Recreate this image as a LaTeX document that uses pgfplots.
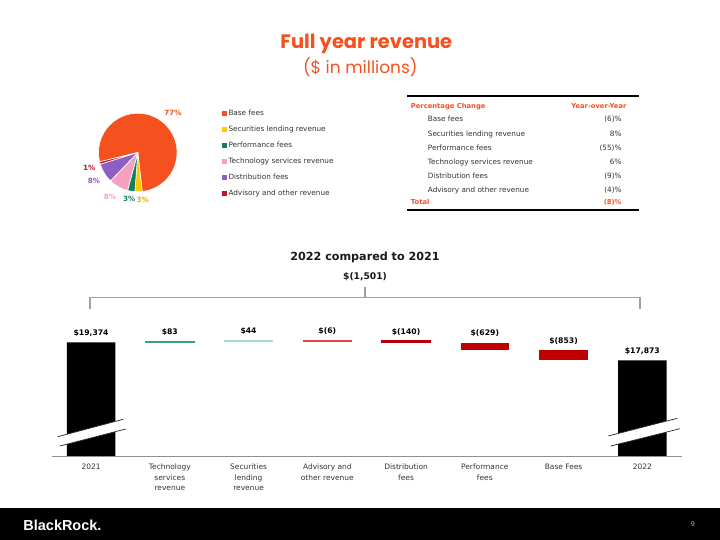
\documentclass[border=0pt]{standalone}
\usepackage{fontspec}
\setmainfont{DejaVu Sans}
\newfontfamily\titlefont{Poppins}
\newfontfamily\logofont{Liberation Sans}
\usepackage{pgfplots}
\usepackage{pgfplotstable}
\pgfplotsset{compat=1.18}

\definecolor{brorange}{HTML}{F5511E}
\definecolor{pieyellow}{HTML}{FFC800}
\definecolor{piegreen}{HTML}{12805C}
\definecolor{piepink}{HTML}{F4A0BE}
\definecolor{piepurple}{HTML}{8E5FC0}
\definecolor{piered}{HTML}{C41230}
\definecolor{wftech}{HTML}{3F9B86}
\definecolor{wfsec}{HTML}{ABDDCD}
\definecolor{wfadv}{HTML}{E04848}
\definecolor{wfdist}{HTML}{B0000E}
\definecolor{wfred}{HTML}{C00000}
\definecolor{bodytext}{HTML}{333333}
\definecolor{rulegray}{HTML}{A0A0A0}
\definecolor{axisgray}{HTML}{909090}

% waterfall: invisible base + coloured segments; top = upper end of each bar
\pgfplotstableread{
x base  tot   tech sec adv dist perf basef top   lab
0 0     19374 0    0   0   0    0    0     19374 19,374
1 19374 0     83   0   0   0    0    0     19457 83
2 19457 0     0    44  0   0    0    0     19501 44
3 19495 0     0    0   6   0    0    0     19501 (6)
4 19355 0     0    0   0   140  0    0     19495 (140)
5 18726 0     0    0   0   0    629  0     19355 (629)
6 17873 0     0    0   0   0    0    853   18726 (853)
7 0     17873 0    0   0   0    0    0     17873 17,873
}\wf

% pie slice: colour, cumulative share before, share (percent)
\newcommand\pieslice[3]{%
  \addplot[fill=#1, draw=white, line width=0.6bp, samples=40,
    domain={193.7-3.6*(#2+#3)}:{193.7-3.6*(#2)}]
    ({cos(x)},{sin(x)}) -- (axis cs:0,0) -- cycle;}

\begin{document}
\begin{tikzpicture}
\fill[white] (0,0) rectangle (720bp,540bp);
\useasboundingbox (0,0) rectangle (720bp,540bp);

% ---------- pie ----------
\begin{axis}[at={(137.8bp,387.5bp)}, anchor=center, scale only axis,
  width=78.6bp, height=78.6bp, xmin=-1, xmax=1, ymin=-1, ymax=1,
  hide axis, clip=false]
\pieslice{brorange}{0}{77}
\pieslice{pieyellow}{77}{3}
\pieslice{piegreen}{80}{3}
\pieslice{piepink}{83}{8}
\pieslice{piepurple}{91}{8}
\pieslice{piered}{99}{1}
\end{axis}

% ---------- waterfall ----------
\pgfplotsset{wfaxis/.style={at={(51.7bp,84bp)}, anchor=south west,
  scale only axis, width=630bp, height=156bp,
  xmin=-0.5, xmax=7.5, ymin=9893, ymax=22901}}
\begin{axis}[wfaxis,
  ybar stacked, bar width=0.617, stacked ignores zero,
  axis x line*=bottom, axis y line=none,
  x axis line style={-, draw=axisgray, line width=0.8bp},
  xtick={0,...,7}, major tick length=0, ytick=\empty,
  xticklabels={2021,{Technology\\services\\revenue},{Securities\\lending\\revenue},
    {Advisory and\\other revenue},{Distribution\\fees},{Performance\\fees},Base Fees,2022},
  xticklabel style={align=center, font=\fontsize{7.5}{10.3}\selectfont, text=bodytext,
    anchor=north, inner sep=0pt, yshift=-8bp},
  axis on top,
]
\addplot[draw=none, fill=none] table[x=x, y=base]{\wf};
\addplot[fill=black, draw=none] table[x=x, y=tot]{\wf};
\addplot[fill=wftech, draw=wftech, line width=0.8bp] table[x=x, y=tech]{\wf};
\addplot[fill=wfsec, draw=wfsec, line width=0.8bp] table[x=x, y=sec]{\wf};
\addplot[fill=wfadv, draw=wfadv, line width=0.8bp] table[x=x, y=adv]{\wf};
\addplot[fill=wfdist, draw=wfdist, line width=0.8bp] table[x=x, y=dist]{\wf};
\addplot[fill=wfred, draw=none] table[x=x, y=perf]{\wf};
\addplot[fill=wfred, draw=none] table[x=x, y=basef]{\wf};
\end{axis}
% value labels above the bar tops
\begin{axis}[wfaxis, hide axis, clip=false, point meta=explicit symbolic,
  nodes near coords={\$\pgfplotspointmeta},
  every node near coord/.append style={font=\bfseries\fontsize{7.7}{9}\selectfont,
    anchor=base, inner sep=0pt, yshift=6.8bp, text=black}]
\addplot[draw=none, mark=none] table[x=x, y=top, meta=lab]{\wf};
\end{axis}

\begin{scope}[x=1bp, y=-1bp, shift={(0,540bp)},
  tl/.style={anchor=base west, yshift=-2.7bp, inner sep=0pt, font=\fontsize{7.3}{9}\selectfont, text=bodytext},
  tr/.style={anchor=base east, yshift=-2.7bp, inner sep=0pt, font=\fontsize{7.3}{9}\selectfont, text=bodytext},
  hl/.style={anchor=base west, yshift=-2.5bp, inner sep=0pt, font=\bfseries\fontsize{6.8}{9}\selectfont, text=brorange},
  hr/.style={anchor=base east, yshift=-2.5bp, inner sep=0pt, font=\bfseries\fontsize{6.8}{9}\selectfont, text=brorange},
  pl/.style={anchor=center, inner sep=0pt, font=\bfseries\fontsize{7.2}{9}\selectfont}]

% titles
\node[inner sep=0pt, text=brorange, font=\titlefont\bfseries\fontsize{19.5}{22}\selectfont] at (366.3,43.8) {Full year revenue};
\node[inner sep=0pt, text=brorange, font=\titlefont\fontsize{17}{19}\selectfont] at (360.3,66.7) {(\$ in millions)};

% pie labels
\node[pl, text=brorange] at (173,113) {77\%};
\node[pl, text=piered] at (89.3,168.3) {1\%};
\node[pl, text=piepurple] at (94,180.5) {8\%};
\node[pl, text=piepink] at (110,196.7) {8\%};
\node[pl, text=piegreen] at (129.3,199.3) {3\%};
\node[pl, text=pieyellow!90!black] at (142.7,199.7) {3\%};

% pie legend
\foreach \c/\t [count=\i from 0] in {brorange/Base fees, pieyellow/Securities lending revenue,
   piegreen/Performance fees, piepink/Technology services revenue,
   piepurple/Distribution fees, piered/Advisory and other revenue}{
  \fill[\c] (222,{113.3+16*\i-2.3}) rectangle (226.6,{113.3+16*\i+2.3});
  \node[tl] at (228.3,{113.3+16*\i}) {\t};
}

% table
\draw[black, line width=1.5bp] (407,96) -- (639,96);
\node[hl] at (410.7,105.7) {Percentage Change};
\node[hr] at (626.7,105.7) {Year-over-Year};
\foreach \t/\v [count=\i from 0] in {Base fees/(6)\%, Securities lending revenue/8\%,
   Performance fees/(55)\%, Technology services revenue/6\%,
   Distribution fees/(9)\%, Advisory and other revenue/(4)\%}{
  \node[tl] at (427.7,{119.3+14.1*\i}) {\t};
  \node[tr] at (621.7,{119.3+14.1*\i}) {\v};
}
\node[hl] at (410.7,202.3) {Total};
\node[hr] at (621.7,202.3) {(8)\%};
\draw[black, line width=1.6bp] (407,210) -- (639,210);

% waterfall heading and bracket
\node[inner sep=0pt, font=\bfseries\fontsize{11.2}{13}\selectfont, text=black!90] at (365,257.3) {2022 compared to 2021};
\node[inner sep=0pt, font=\bfseries\fontsize{9.2}{11}\selectfont, text=black!90] at (365,276.7) {\$(1,501)};
\draw[rulegray, line width=1.2bp] (90,309) -- (90,297.7) -- (640,297.7) -- (640,309);
\draw[rulegray, line width=1.2bp] (365,286.7) -- (365,297.7);

% axis break marks
\fill[white] (57.7,436.7) -- (123.3,419.3) -- (125.7,429) -- (60,446) -- cycle;
\draw[black!85, line width=0.7bp] (57.7,436.7) -- (123.3,419.3) (60,446) -- (125.7,429);
\fill[white] (608.3,436) -- (677.3,418.3) -- (680,428.7) -- (610.7,446) -- cycle;
\draw[black!85, line width=0.7bp] (608.3,436) -- (677.3,418.3) (610.7,446) -- (680,428.7);

% footer
\fill[black] (0,507.7) rectangle (720,540);
\node[anchor=west, inner sep=0pt, text=white, font=\logofont\bfseries\fontsize{14.5}{16}\selectfont] at (23.3,525) {BlackRock.};
\node[inner sep=0pt, text=white!70!black, font=\fontsize{6.5}{8}\selectfont] at (693,524) {9};
\end{scope}
\end{tikzpicture}
\end{document}
